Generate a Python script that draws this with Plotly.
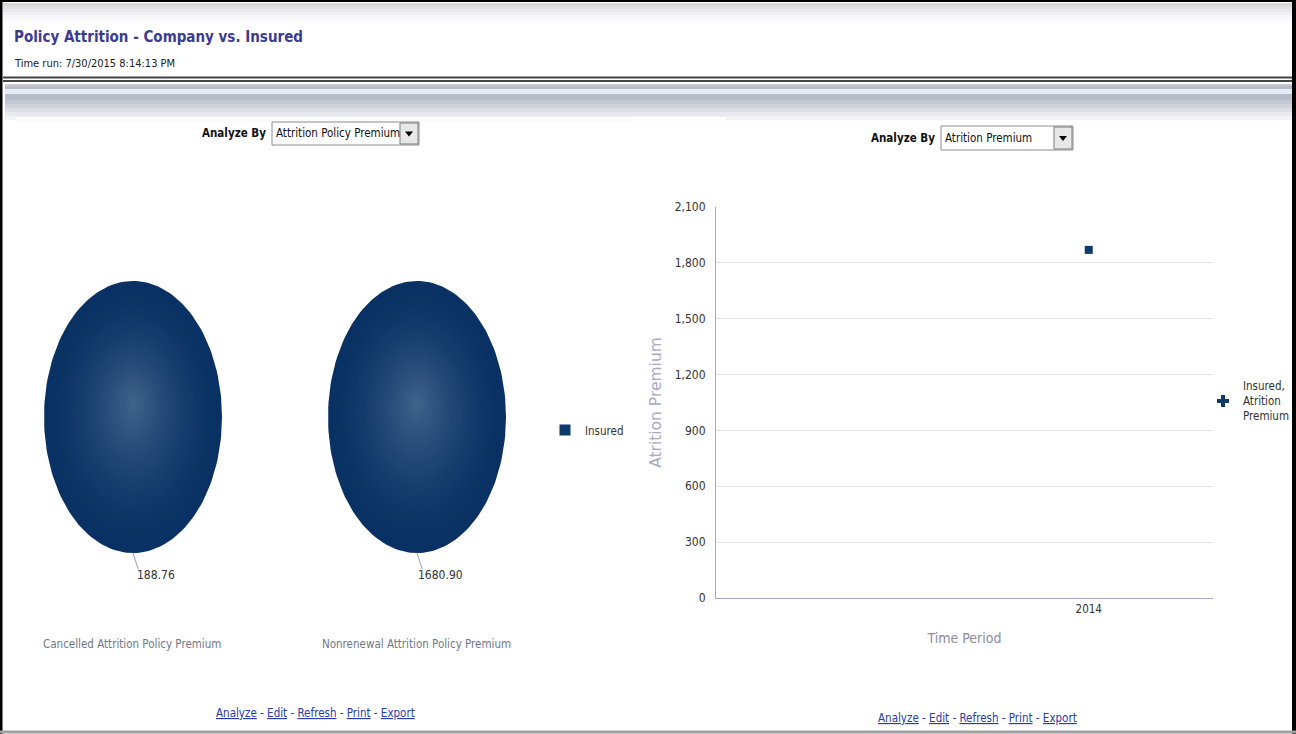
import numpy as np
import plotly.graph_objects as go

# ---------------- data ----------------
pie_categories = ["Cancelled Attrition Policy Premium", "Nonrenewal Attrition Policy Premium"]
pie_series = "Insured"
pie_values = [188.76, 1680.90]

time_periods = ["2014"]
line_series = "Insured, Atrition Premium"
atrition_premium = [1869.66]

y_ticks = [0, 300, 600, 900, 1200, 1500, 1800, 2100]

# ---------------- helpers ----------------
W, H = 1296, 734
def px(x):
    return x / W
def py(y):
    return 1 - y / H

FONT = "DejaVu Sans Condensed, Liberation Sans Narrow, Arial Narrow, sans-serif"
NAVY = "#0e3a6b"

fig = go.Figure()

# ---------------- right chart ----------------
fig.add_trace(go.Scatter(
    x=time_periods, y=atrition_premium, mode="markers",
    marker=dict(symbol="square", size=8, color=NAVY),
    showlegend=False, xaxis="x", yaxis="y", hoverinfo="x+y"))
fig.add_trace(go.Scatter(
    x=[None], y=[None], mode="markers", name="Insured,<br>Atrition<br>Premium",
    marker=dict(symbol="cross", size=10, color=NAVY),
    showlegend=True, legend="legend", xaxis="x", yaxis="y"))

# ---------------- pies (elliptical, drawn on their own axes) ----------------
pie_boxes = [(44, 222, 281, 553), (328, 506, 281, 553)]
EXTRA = 40 / 136.0  # room below each pie for the leader line and value label
edge = np.array([9, 49, 99])
center = np.array([66, 100, 140])
layers = np.linspace(1.0, 0.03, 48)
for i, (cat, val) in enumerate(zip(pie_categories, pie_values)):
    n = i + 2
    frac = val / pie_values[i]  # single series -> full slice
    theta = np.linspace(0, 2 * np.pi * frac, 181)
    for r in layers:
        t = (1 - r) ** 1.6
        c = edge + (center - edge) * t
        col = "rgb(%d,%d,%d)" % tuple(np.round(c).astype(int))
        dy = (1 - r) * 0.1
        fig.add_trace(go.Scatter(
            x=r * np.cos(theta), y=r * np.sin(theta) + dy, mode="lines",
            fill="toself", fillcolor=col, line=dict(width=0, color=col),
            showlegend=False, hoverinfo="skip",
            xaxis="x%d" % n, yaxis="y%d" % n))
    # leader line and value label
    fig.add_trace(go.Scatter(
        x=[0.0, 0.06], y=[-1.0, -1.12], mode="lines",
        line=dict(color="#8fa3bf", width=1), showlegend=False, hoverinfo="skip",
        xaxis="x%d" % n, yaxis="y%d" % n))
    fig.add_annotation(x=0.26, y=-1.16, xref="x%d" % n, yref="y%d" % n,
                       text="%.2f" % val, showarrow=False, xanchor="center",
                       font=dict(family=FONT, size=12, color="#333333"))
    fig.add_annotation(x=px((pie_boxes[i][0] + pie_boxes[i][1]) / 2 - 1), y=py(644),
                       xref="paper", yref="paper", text=cat, showarrow=False,
                       xanchor="center", yanchor="middle",
                       font=dict(family=FONT, size=11.5, color="#6f7888"))

fig.add_trace(go.Scatter(
    x=[None], y=[None], mode="markers", name=pie_series,
    marker=dict(symbol="square", size=11, color=NAVY),
    showlegend=True, legend="legend2", xaxis="x2", yaxis="y2"))

# ---------------- layout ----------------
layout = dict(
    width=W, height=H, margin=dict(l=0, r=0, t=0, b=0, autoexpand=False),
    paper_bgcolor="white", plot_bgcolor="white",
    font=dict(family=FONT, size=12, color="#333333"),
    xaxis=dict(domain=[px(716), px(1213)], type="category", range=[-1.5, 0.5],
               showgrid=False, showline=True, linecolor="#a7a7c8", linewidth=1,
               ticks="", tickfont=dict(family=FONT, size=11.5, color="#333333"),
               title=dict(text="Time Period", standoff=18,
                          font=dict(family=FONT, size=14, color="#8a8ca0")),
               zeroline=False, anchor="y"),
    yaxis=dict(domain=[py(598), py(207)], range=[0, 2100], tickvals=y_ticks,
               tickformat=",", showgrid=True, gridcolor="#e2e2ea", gridwidth=1,
               showline=True, linecolor="#a7a7c8", linewidth=1, zeroline=False,
               ticks="", ticklabelstandoff=7,
               tickfont=dict(family=FONT, size=12, color="#333333"),
               title=dict(text="Atrition Premium", standoff=9,
                          font=dict(family="DejaVu Sans, Verdana, sans-serif",
                                    size=15.5, color="#a9a9c6")),
               anchor="x"),
    legend=dict(x=px(1203), y=py(401), xanchor="left", yanchor="middle",
                bgcolor="rgba(0,0,0,0)", font=dict(family=FONT, size=11.5, color="#333333"),
                itemwidth=30, tracegroupgap=0),
    legend2=dict(x=px(545), y=py(430), xanchor="left", yanchor="middle",
                 bgcolor="rgba(0,0,0,0)", font=dict(family=FONT, size=11.5, color="#333333"),
                 itemwidth=30),
    showlegend=True,
)
for i, (x0, x1, y0, y1) in enumerate(pie_boxes):
    n = i + 2
    layout["xaxis%d" % n] = dict(domain=[px(x0), px(x1)], range=[-1, 1], visible=False,
                                 fixedrange=True, anchor="y%d" % n)
    layout["yaxis%d" % n] = dict(domain=[py(y1 + 40), py(y0)], range=[-1 - EXTRA, 1],
                                 visible=False, fixedrange=True, anchor="x%d" % n)
fig.update_layout(**layout)

# ---------------- decorations (page chrome) ----------------
shapes = []
def rect(x0, y0, x1, y1, fill, line=None, lw=0, layer="below"):
    shapes.append(dict(type="rect", xref="paper", yref="paper",
                       x0=px(x0), x1=px(x1), y0=py(y1), y1=py(y0),
                       fillcolor=fill, line=dict(width=lw, color=line or fill),
                       layer=layer))
def hline(x0, x1, y, color, w=1):
    shapes.append(dict(type="line", xref="paper", yref="paper",
                       x0=px(x0), x1=px(x1), y0=py(y), y1=py(y),
                       line=dict(color=color, width=w), layer="above"))

# header top gradient
for k, g in enumerate([215, 225, 233, 240, 246, 250]):
    rect(3, 3 + k * 3, 1293, 6 + k * 3, "rgb(%d,%d,%d)" % (g, g, g + 2))
# double line under header
hline(3, 1293, 77.5, "#444444", 2)
hline(3, 1293, 81, "#444444", 2)
# gray band under header
band = [(84, "#c8cad0"), (86, "#b8bcc6"), (89, "#e6ecf5"), (94, "#b8bdcb"),
        (100, "#c4c8d3"), (104, "#d0d3dc"), (108, "#dcdee5"), (112, "#e8e9ee"),
        (116, "#f3f3f6")]
for k, (yy, colr) in enumerate(band):
    y2 = band[k + 1][0] if k + 1 < len(band) else 120
    rect(5, yy, 1293, y2, colr)
rect(16, 117, 632, 122, "#fbfbfc")
rect(632, 117, 725, 121, "white")
# outer black frame
rect(0, 0, 2.5, H, "black", layer="above")
rect(0, 0, W, 2, "black", layer="above")
rect(1292, 0, W, H, "black", layer="above")
hline(0, W, 732, "#a0a0a0", 3)

# dropdowns
def dropdown(x0, y0, x1, y1):
    rect(x0, y0, x1, y1, "white", "#8c8c8c", 1)
    rect(x1 - 19, y0 + 1, x1 - 1, y1 - 1, "#e8e8e8", "#7a7a7a", 1, layer="above")
    shapes.append(dict(type="path", xref="paper", yref="paper",
                       path="M %f %f L %f %f L %f %f Z" % (
                           px(x1 - 14), py((y0 + y1) / 2 - 2), px(x1 - 6), py((y0 + y1) / 2 - 2),
                           px(x1 - 10), py((y0 + y1) / 2 + 3)),
                       fillcolor="black", line=dict(width=0), layer="above"))
dropdown(272, 122, 419, 145)
dropdown(941, 126, 1073, 150)
fig.update_layout(shapes=shapes)

def ann(x, y, text, size, color, bold=False, xanchor="left", family=FONT):
    fig.add_annotation(x=px(x), y=py(y), xref="paper", yref="paper", text=text,
                       showarrow=False, xanchor=xanchor, yanchor="middle",
                       font=dict(family=family, size=size, color=color,
                                 weight="bold" if bold else "normal"))

ann(12, 37, "Policy Attrition - Company vs. Insured", 15, "#3b3b92", bold=True)
ann(12, 64, "Time run: 7/30/2015 8:14:13 PM", 11, "#222222")
ann(268, 133, "Analyze By", 11.5, "#111111", bold=True, xanchor="right")
ann(274, 133, "Attrition Policy Premium", 11.5, "#111111")
ann(937, 138, "Analyze By", 11.5, "#111111", bold=True, xanchor="right")
ann(943, 138, "Atrition Premium", 11.5, "#111111")

links = "<u>Analyze</u> - <u>Edit</u> - <u>Refresh</u> - <u>Print</u> - <u>Export</u>"
ann(315, 713, links, 11.5, "#2a3aa8", xanchor="center")
ann(977, 718, links, 11.5, "#2a3aa8", xanchor="center")

fig.write_html("out.html", config={"displayModeBar": False},
               post_script="document.body.style.margin='0';document.body.style.overflow='hidden';")
